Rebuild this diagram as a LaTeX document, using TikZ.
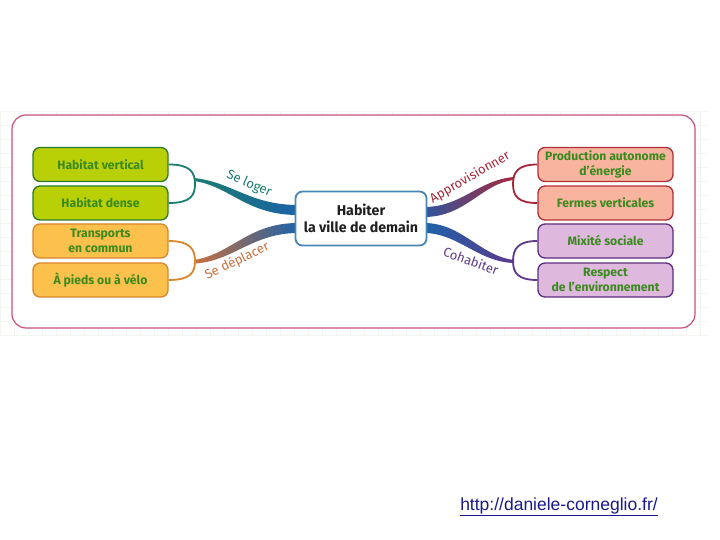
\documentclass[tikz,border=0pt]{standalone}
\usepackage{fontspec}
\setmainfont{Fira Sans}
\newfontfamily\urlfont{Liberation Sans}
\definecolor{gridc}{HTML}{F3F5F1}
\definecolor{framepink}{HTML}{C8507F}
\definecolor{txtgreen}{HTML}{3A8A1E}
\definecolor{limefill}{HTML}{B9CF06}
\definecolor{limeborder}{HTML}{2E7A2A}
\definecolor{orangefill}{HTML}{FCC04C}
\definecolor{orangeborder}{HTML}{D9862C}
\definecolor{salmonfill}{HTML}{F8B49E}
\definecolor{salmonborder}{HTML}{B0303A}
\definecolor{purplefill}{HTML}{DFB8DD}
\definecolor{purpleborder}{HTML}{5E2E82}
\definecolor{teal}{HTML}{1A7D6E}
\definecolor{ribblue}{HTML}{1C62A8}
\definecolor{brownor}{HTML}{C8703E}
\definecolor{midpurp}{HTML}{7A4A8A}
\definecolor{darkred}{HTML}{A5283A}
\definecolor{purp}{HTML}{5E3A8C}
\definecolor{centerborder}{HTML}{4A86B4}
\definecolor{urlblue}{HTML}{1A1A8C}
\begin{document}
\begin{tikzpicture}[x=1pt,y=-1pt,
  box/.style={rounded corners=7pt, line width=1.3pt, minimum width=135pt, minimum height=34pt,
    inner sep=0pt, align=center, font=\fontsize{12.2}{15}\selectfont\bfseries, text=txtgreen},
  limebox/.style={box, fill=limefill, draw=limeborder},
  orangebox/.style={box, fill=orangefill, draw=orangeborder},
  salmonbox/.style={box, fill=salmonfill, draw=salmonborder},
  purplebox/.style={box, fill=purplefill, draw=purpleborder},
  bracket/.style={line width=1.8pt},
  branchlabel/.style={font=\fontsize{13}{13}\selectfont, inner sep=0pt}]
\useasboundingbox (0,0) rectangle (720,540);
\fill[white] (0,0) rectangle (720,540);
% faint grid
\foreach \gx in {0,14,...,706} \draw[gridc, line width=0.5pt] (\gx,111) -- (\gx,335);
\foreach \gy in {111,125,...,335} \draw[gridc, line width=0.5pt] (0,\gy) -- (707,\gy);
% frame
\draw[framepink, line width=1.2pt, rounded corners=14pt, fill=white] (12,115) rectangle (695,328);

% ribbons
\shade[left color=teal, right color=ribblue]
  (194,178) .. controls (232,182) and (250,205) .. (298,205) -- (298,215)
  .. controls (246,215) and (230,186) .. (194,181) -- cycle;
\shade[left color=brownor, middle color=midpurp, right color=ribblue]
  (194,260) .. controls (232,254) and (248,223) .. (298,223) -- (298,233)
  .. controls (252,233) and (232,262) .. (194,263.5) -- cycle;
\shade[left color=ribblue!70!purp, right color=darkred]
  (514,177) .. controls (478,180) and (462,207) .. (424,207) -- (424,217)
  .. controls (466,217) and (482,183) .. (514,180) -- cycle;
\shade[left color=ribblue, right color=purp]
  (424,223) .. controls (462,223) and (480,256) .. (514,260) -- (514,263)
  .. controls (478,262) and (458,233) .. (424,233) -- cycle;

% boxes
\node[limebox] (hv) at (100.5,164.5) {Habitat vertical};
\node[limebox] (hd) at (100.5,203) {Habitat dense};
\node[orangebox] (tc) at (100.5,241) {Transports\\en commun};
\node[orangebox] (pv) at (100.5,280) {À pieds ou à vélo};
\node[salmonbox] (pa) at (605.5,164.5) {Production autonome\\d'énergie};
\node[salmonbox] (fv) at (605.5,203) {Fermes verticales};
\node[purplebox] (ms) at (605.5,241) {Mixité sociale};
\node[purplebox] (re) at (605.5,280) {Respect\\de l'environnement};

\node[rounded corners=7pt, line width=1.8pt, draw=centerborder, fill=white,
  minimum width=131pt, minimum height=54pt, align=center, inner sep=0pt,
  font=\fontsize{14.2}{16.5}\selectfont\bfseries, text=black!88] (c) at (361,218.5)
  {Habiter\\la ville de demain};

% bracket points
\coordinate (bl) at (195,184);
\coordinate (bd) at (195,261);
\coordinate (ba) at (513,184);
\coordinate (bc) at (513,261);

% brackets
\draw[bracket, teal] (hv.east) .. controls (190,164.5) and (195,172) .. (bl)
  .. controls (195,196) and (190,203) .. (hd.east);
\draw[bracket, orangeborder] (tc.east) .. controls (190,241) and (195,249) .. (bd)
  .. controls (195,273) and (190,280) .. (pv.east);
\draw[bracket, darkred] (pa.west) .. controls (518,164.5) and (513,172) .. (ba)
  .. controls (513,196) and (518,203) .. (fv.west);
\draw[bracket, purp] (ms.west) .. controls (518,241) and (513,249) .. (bc)
  .. controls (513,273) and (518,280) .. (re.west);

% branch labels
\node[branchlabel, text=teal, rotate=-24] (l1) at (249,184) {Se loger};
\node[branchlabel, text=brownor, rotate=25] (l2) at (237,261) {Se déplacer};
\node[branchlabel, text=darkred, rotate=30] (l3) at (470,177.5) {Approvisionner};
\node[branchlabel, text=purp, rotate=-20] (l4) at (471,261) {Cohabiter};

% url
\node[font=\urlfont\fontsize{17.5}{17.5}\selectfont, text=urlblue, inner sep=0pt] (url) at (559,507)
  {\underline{http://daniele-corneglio.fr/}};
\end{tikzpicture}
\end{document}
